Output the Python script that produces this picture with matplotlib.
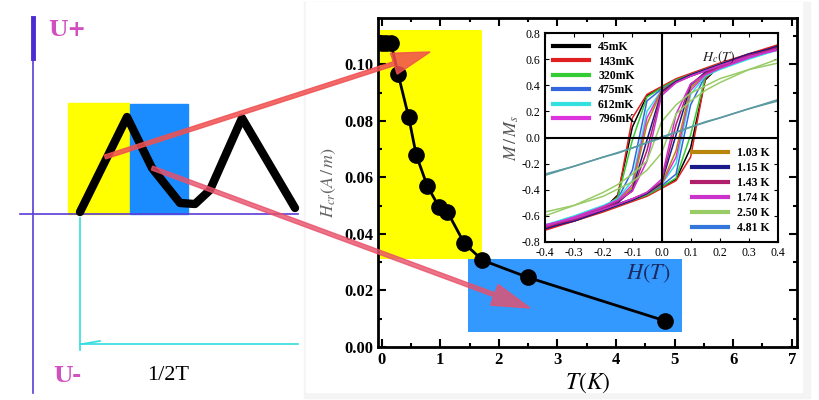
import matplotlib
matplotlib.use("Agg")
import matplotlib.pyplot as plt
from matplotlib.patches import Rectangle, FancyArrow
from matplotlib.ticker import MultipleLocator

plt.rcParams["mathtext.fontset"] = "stix"

T = [0.0, 0.08, 0.16, 0.28, 0.46, 0.59, 0.78, 0.98, 1.12, 1.41, 1.72, 2.5, 4.83]
Hcr = [0.1074, 0.1074, 0.1074, 0.0966, 0.0814, 0.0679, 0.0569, 0.0495, 0.0479, 0.0367, 0.0307, 0.0246, 0.0093]

H_grid = [-0.4, -0.3, -0.2, -0.15, -0.1, -0.05, 0.0, 0.05, 0.1, 0.2, 0.3, 0.4]
loop_labels = ["45mK", "143mK", "320mK", "475mK", "612mK", "796mK",
               "1.03 K", "1.15 K", "1.43 K", "1.74 K", "2.50 K", "4.81 K"]
loop_colors = ["#000000", "#e02020", "#33cc33", "#3366dd", "#33e0e0", "#dd33dd",
               "#b8860b", "#1a1a8c", "#b0206a", "#cc33cc", "#99cc66", "#5a9aa0"]
legend_colors = loop_colors[:11] + ["#3377dd"]
M_desc = [
    [-0.70, -0.63, -0.55, -0.44, 0.08, 0.32, 0.38, 0.44, 0.48, 0.56, 0.63, 0.69],
    [-0.71, -0.64, -0.56, -0.45, 0.15, 0.33, 0.39, 0.45, 0.49, 0.57, 0.64, 0.70],
    [-0.69, -0.62, -0.54, -0.46, -0.02, 0.31, 0.38, 0.44, 0.48, 0.56, 0.63, 0.68],
    [-0.68, -0.61, -0.53, -0.47, -0.25, 0.28, 0.37, 0.43, 0.47, 0.55, 0.62, 0.68],
    [-0.67, -0.60, -0.52, -0.47, -0.33, 0.20, 0.36, 0.43, 0.47, 0.55, 0.62, 0.67],
    [-0.68, -0.61, -0.53, -0.48, -0.36, 0.15, 0.36, 0.43, 0.47, 0.55, 0.62, 0.67],
    [-0.69, -0.62, -0.54, -0.49, -0.38, 0.10, 0.36, 0.43, 0.48, 0.56, 0.63, 0.69],
    [-0.70, -0.63, -0.55, -0.50, -0.40, -0.02, 0.35, 0.43, 0.48, 0.56, 0.64, 0.69],
    [-0.69, -0.62, -0.54, -0.49, -0.41, -0.10, 0.34, 0.42, 0.47, 0.55, 0.63, 0.68],
    [-0.68, -0.61, -0.53, -0.48, -0.41, -0.18, 0.32, 0.42, 0.47, 0.55, 0.62, 0.67],
    [-0.60, -0.52, -0.42, -0.36, -0.28, -0.18, 0.12, 0.25, 0.34, 0.45, 0.52, 0.57],
    [-0.28, -0.22, -0.15, -0.12, -0.08, -0.04, 0.005, 0.04, 0.08, 0.15, 0.22, 0.29],
]

serif = "Liberation Serif"
W, Hh = 820, 400
fig = plt.figure(figsize=(8.2, 4.0), dpi=100)

def fr(l, t, r, b):
    return [l / W, 1 - b / Hh, (r - l) / W, (b - t) / Hh]

# background schematic
bg = fig.add_axes([0, 0, 1, 1], zorder=0)
bg.set_xlim(0, W); bg.set_ylim(Hh, 0); bg.axis("off")
bg.add_patch(Rectangle((68, 103), 61, 111, color="#ffff00", zorder=1))
bg.add_patch(Rectangle((130, 104), 58, 110, color="#1a8cff", zorder=1))
bg.plot([33, 33], [18, 393], color="#5a3cd8", lw=1.2, zorder=2)
bg.plot([33, 33], [18, 58], color="#4a2cd0", lw=3.5, zorder=2)
bg.plot([20, 298], [214, 214], color="#5a3cd8", lw=1.2, zorder=2)
bg.plot([80, 127, 152, 180, 195, 210, 242, 295],
        [212, 117, 168, 203, 204, 190, 118, 208], color="black", lw=6, zorder=3,
        solid_joinstyle="round", solid_capstyle="round")
bg.plot([80, 80], [218, 350], color="#33dddd", lw=1.2, zorder=2)
bg.plot([80, 298], [344, 344], color="#33dddd", lw=1.2, zorder=2)
bg.plot([82, 100], [344, 341], color="#33dddd", lw=1.2, zorder=2)
bg.text(48, 30, "U+", color="#d050c0", fontsize=16, fontweight="bold", family="DejaVu Serif", va="center")
bg.text(53, 376, "U-", color="#d050c0", fontsize=16, fontweight="bold", family="DejaVu Serif", va="center")
bg.text(147, 376, "1/2T", color="black", fontsize=16, family=serif, va="center")
bg.add_patch(Rectangle((304, 2), 506, 396, color="#f4f4f4", zorder=0))
bg.add_patch(Rectangle((306, 2), 496, 390, color="white", zorder=0))

# main axes
ax = fig.add_axes(fr(378, 18, 797, 347), zorder=2)
ax.set_facecolor("none")
ax.set_xlim(-0.063, 7.09); ax.set_ylim(0, 0.1164)
ax.add_patch(Rectangle((-0.063, 0.0311), 1.78, 0.081, color="#ffff00", zorder=0, lw=0))
ax.add_patch(Rectangle((1.47, 0.0054), 3.65, 0.0257, color="#3399ff", zorder=0, lw=0))
ax.plot(T, Hcr, color="black", lw=2, marker="o", ms=11, zorder=3)
ax.xaxis.set_major_locator(MultipleLocator(1)); ax.xaxis.set_minor_locator(MultipleLocator(0.5))
ax.yaxis.set_major_locator(MultipleLocator(0.02)); ax.yaxis.set_minor_locator(MultipleLocator(0.01))
ax.tick_params(which="both", direction="in", top=True, right=True, width=1.5)
ax.tick_params(which="major", length=6); ax.tick_params(which="minor", length=3)
ax.set_yticks([0, 0.02, 0.04, 0.06, 0.08, 0.10])
ax.set_yticklabels(["0.00", "0.02", "0.04", "0.06", "0.08", "0.10"])
for lab in ax.get_xticklabels() + ax.get_yticklabels():
    lab.set_family(serif); lab.set_fontweight("bold"); lab.set_fontsize(12)
for s in ax.spines.values():
    s.set_linewidth(2)
ax.set_xlabel(r"$T(K)$", fontsize=17, labelpad=2)
ax.set_ylabel(r"$H_{cr}(A\,/\,m)$", fontsize=13, color="#666666", labelpad=4)
ax.text(4.55, 0.026, r"$\mathbf{\mathit{H(T)}}$", fontsize=16,
        color="#1a2a60", ha="center", va="center")

# inset
ins = fig.add_axes(fr(545, 33, 778, 242), zorder=3)
ins.set_facecolor("none")
ins.set_xlim(-0.4, 0.4); ins.set_ylim(-0.8, 0.8)
for lab, c, md in zip(loop_labels, loop_colors, M_desc):
    ins.plot(H_grid, md, color=c, lw=1.1)
    ins.plot([-h for h in H_grid], [-m for m in md], color=c, lw=1.1)
ins.axhline(0, color="black", lw=1.5); ins.axvline(0, color="black", lw=1.5)
ins.xaxis.set_major_locator(MultipleLocator(0.1)); ins.yaxis.set_major_locator(MultipleLocator(0.2))
ins.tick_params(direction="in", top=True, right=True, length=3, labelsize=8.5)
ins.set_xticklabels([f"{v:.1f}" for v in ins.get_xticks()])
ins.set_yticklabels([f"{v:.1f}" for v in ins.get_yticks()])
for lab in ins.get_xticklabels() + ins.get_yticklabels():
    lab.set_family(serif)
for s in ins.spines.values():
    s.set_linewidth(1.5)
ins.set_ylabel(r"$M\,/\,M_s$", fontsize=13, color="#555555", labelpad=0)
ins.text(0.14, 0.58, r"$H_c(T)$", fontsize=10, color="#222222")
h1 = [plt.Line2D([], [], color=c, lw=3) for c in legend_colors[:6]]
h2 = [plt.Line2D([], [], color=c, lw=3) for c in legend_colors[6:]]
leg1 = ins.legend(h1, loop_labels[:6], loc="upper left", frameon=False,
                  prop={"family": serif, "weight": "bold", "size": 8.5}, handlelength=3,
                  labelspacing=0.2, borderaxespad=0.3)
ins.add_artist(leg1)
ins.legend(h2, loop_labels[6:], loc="lower right", frameon=False,
           prop={"family": serif, "weight": "bold", "size": 8.5}, handlelength=3,
           labelspacing=0.25, borderaxespad=0.3)

# overlay arrows
ov = fig.add_axes([0, 0, 1, 1], zorder=5)
ov.set_xlim(0, W); ov.set_ylim(Hh, 0); ov.axis("off"); ov.set_facecolor("none")
ov.add_patch(FancyArrow(105, 157, 325, -105, width=4, head_width=22, head_length=38,
                        length_includes_head=True, color="#f05050", alpha=0.85))
ov.add_patch(FancyArrow(152, 168, 378, 140, width=4, head_width=22, head_length=38,
                        length_includes_head=True, color="#e8506a", alpha=0.8))

fig.savefig("out.png", dpi=100)
